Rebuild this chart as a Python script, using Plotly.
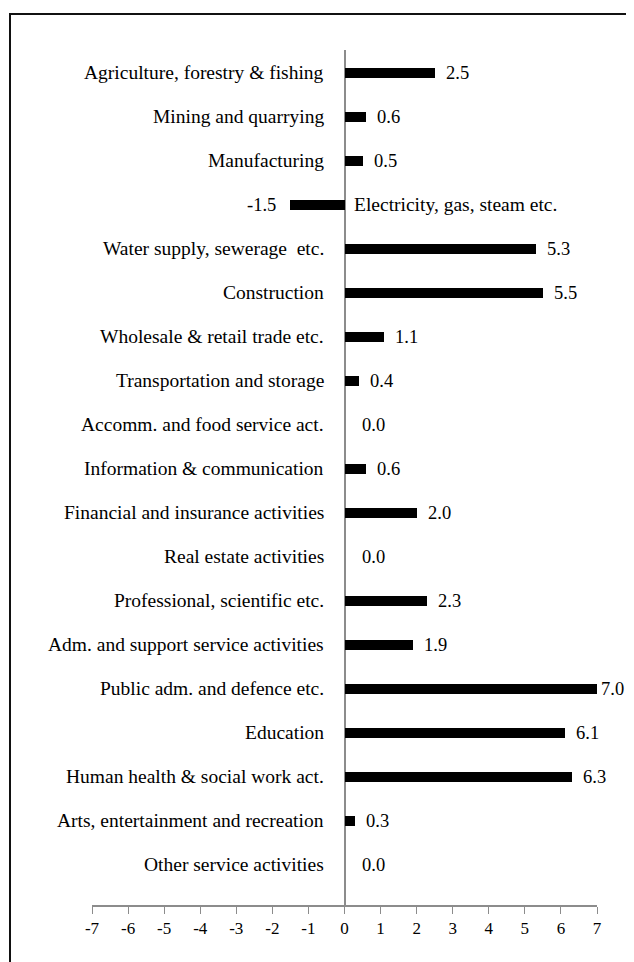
import plotly.graph_objects as go

categories = [
    "Agriculture, forestry & fishing",
    "Mining and quarrying",
    "Manufacturing",
    "Electricity, gas, steam etc.",
    "Water supply, sewerage  etc.",
    "Construction",
    "Wholesale & retail trade etc.",
    "Transportation and storage",
    "Accomm. and food service act.",
    "Information & communication",
    "Financial and insurance activities",
    "Real estate activities",
    "Professional, scientific etc.",
    "Adm. and support service activities",
    "Public adm. and defence etc.",
    "Education",
    "Human health & social work act.",
    "Arts, entertainment and recreation",
    "Other service activities",
]
values = [2.5, 0.6, 0.5, -1.5, 5.3, 5.5, 1.1, 0.4, 0.0, 0.6, 2.0, 0.0, 2.3, 1.9, 7.0, 6.1, 6.3, 0.3, 0.0]
tick_vals = list(range(-7, 8))
tick_text = [str(v) for v in tick_vals]

FONT = "Liberation Serif, Times New Roman, serif"
W, H = 626, 954
L, R, T, B = 84, 37, 42, 57
CAT_SIZE = 19.5
VAL_SIZE = 18.5
XMAX = tick_vals[-1]

fig = go.Figure()
fig.add_trace(go.Bar(
    x=values, y=categories, orientation="h",
    marker=dict(color="#000000", line=dict(width=0)),
    width=0.24, showlegend=False, hoverinfo="x+y",
))

annotations = []
for c, v in zip(categories, values):
    if v < 0:
        annotations.append(dict(x=0, y=c, xref="x", yref="y", text=c, showarrow=False,
                                xanchor="left", xshift=7, font=dict(family=FONT, size=CAT_SIZE, color="#000")))
        annotations.append(dict(x=v, y=c, xref="x", yref="y", text=f"{v:.1f}", showarrow=False,
                                xanchor="right", xshift=-12, font=dict(family=FONT, size=VAL_SIZE, color="#000")))
    else:
        if v >= XMAX:
            shift = 2
        elif v > 0:
            shift = 9
        else:
            shift = 15
        annotations.append(dict(x=0, y=c, xref="x", yref="y", text=c, showarrow=False,
                                xanchor="right", xshift=-19, font=dict(family=FONT, size=CAT_SIZE, color="#000")))
        annotations.append(dict(x=v, y=c, xref="x", yref="y", text=f"{v:.1f}", showarrow=False,
                                xanchor="left", xshift=shift,
                                font=dict(family=FONT, size=VAL_SIZE, color="#000")))

pw = W - L - R
ph = H - T - B
fig.update_layout(
    width=W, height=H,
    margin=dict(l=L, r=R, t=T, b=B, autoexpand=False),
    paper_bgcolor="white", plot_bgcolor="white",
    annotations=annotations,
    xaxis=dict(range=[-7, 7], tickvals=tick_vals, ticktext=tick_text,
               showgrid=False, zeroline=True, zerolinecolor="#8c8c8c", zerolinewidth=1.5,
               showline=True, linecolor="#8c8c8c", linewidth=1.5,
               ticks="outside", ticklen=7, tickcolor="#8c8c8c", tickwidth=1.2,
               tickfont=dict(family=FONT, size=17, color="#000")),
    yaxis=dict(range=[18.91, -0.52], showticklabels=False, showgrid=False,
               zeroline=False, showline=False, ticks=""),
    shapes=[dict(type="rect", xref="paper", yref="paper",
                 x0=(2 - L) / pw, x1=(W + 20 - L) / pw,
                 y0=-(B + 20) / ph, y1=(H - B - 6) / ph,
                 line=dict(color="#111", width=2), fillcolor="rgba(0,0,0,0)", layer="above")],
    bargap=0,
)
fig.write_html("out.html")
